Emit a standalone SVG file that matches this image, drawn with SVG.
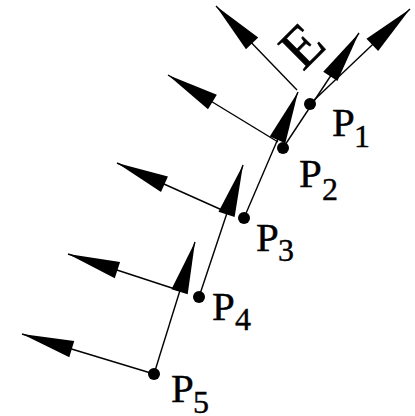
<svg xmlns="http://www.w3.org/2000/svg" width="415" height="416" viewBox="0 0 415 416">
<style>
.ln{stroke:#000;stroke-width:1.4;fill:none;marker-end:url(#ah)}
.dot{fill:#000}
.p{font-family:"Liberation Serif","Times New Roman",serif;font-size:41px;fill:#000;stroke:#000;stroke-width:0.4}
.s{font-family:"Liberation Serif","Times New Roman",serif;font-size:32px;fill:#000;stroke:#000;stroke-width:0.4}
</style>
<defs>
<marker id="ah" markerUnits="userSpaceOnUse" markerWidth="53" markerHeight="18" refX="52" refY="8.5" orient="auto" overflow="visible">
<path d="M0,0 L52,8.5 L0,17 Z" fill="#000"/>
</marker>
</defs>
<rect width="415" height="416" fill="#fff"/>
<g id="connectors">
<path class="ln" d="M154,374 L195,242"/>
<path class="ln" d="M199,297 L243,165"/>
<path class="ln" d="M244,218 L298,92"/>
<path class="ln" d="M283,148 L359,33"/>
<path class="ln" d="M310,104 L410,9"/>
<path class="ln" d="M154,374 L22,334"/>
<path class="ln" d="M178,290 L68,254"/>
<path class="ln" d="M222,210 L117,163"/>
<path class="ln" d="M278,142 L168,75"/>
<path class="ln" d="M297,90 L216,6"/>
</g>
<g id="P1"><circle class="dot" cx="310" cy="104" r="6"/><text class="p" x="332" y="136">P</text><text class="s" x="354" y="147">1</text></g>
<g id="P2"><circle class="dot" cx="283" cy="148" r="6"/><text class="p" x="299" y="187">P</text><text class="s" x="322" y="200">2</text></g>
<g id="P3"><circle class="dot" cx="244" cy="218" r="6"/><text class="p" x="256" y="251">P</text><text class="s" x="278" y="261">3</text></g>
<g id="P4"><circle class="dot" cx="199" cy="297" r="6"/><text class="p" x="212" y="320">P</text><text class="s" x="235" y="330">4</text></g>
<g id="P5"><circle class="dot" cx="154" cy="374" r="6"/><text class="p" x="171" y="402">P</text><text class="s" x="193" y="413">5</text></g>
<g id="E"><text class="p" style="font-size:58px;stroke-width:0.6" text-anchor="middle" transform="translate(302,46) rotate(-45)" x="0" y="19">E</text></g>
</svg>
